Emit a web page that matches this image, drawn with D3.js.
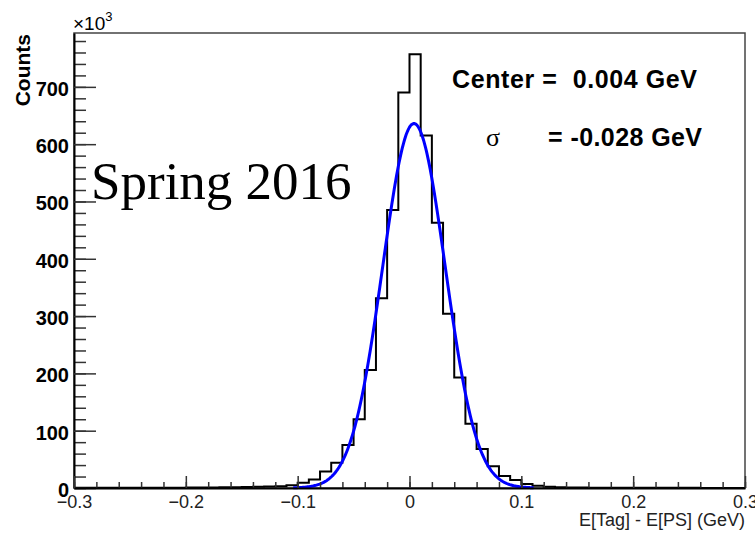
<!DOCTYPE html>
<html>
<head>
<meta charset="utf-8">
<script src="https://cdn.jsdelivr.net/npm/d3@7"></script>
<style>
  html, body { margin: 0; padding: 0; background: #fff; }
  svg { display: block; }
</style>
</head>
<body>
<svg id="chart" width="755" height="533"></svg>
<script>
// Histogram of E[Tag] - E[PS], 60 bins of 0.01 GeV from -0.3 to 0.3 (counts in thousands)
const binLow = -0.30;
const binWidth = 0.01;
const counts = [
  0.3, 0.3, 0.3, 0.4, 0.4, 0.4, 0.5, 0.5, 0.5, 0.6,   // -0.30 .. -0.21
  0.7, 0.8, 0.9, 1.1, 1.3, 1.6, 2.0, 2.6, 3.0, 5.0,   // -0.20 .. -0.11
  9, 15, 29, 44, 75, 120, 206, 331, 485, 690,         // -0.10 .. -0.01
  757, 615, 463, 304, 193, 112, 68, 38, 21, 14,       //  0.00 ..  0.09
  7, 4, 2, 1.2, 0.9, 0.7, 0.6, 0.5, 0.5, 0.4,         //  0.10 ..  0.19
  0.4, 0.4, 0.3, 0.3, 0.3, 0.3, 0.2, 0.2, 0.2, 0.2    //  0.20 ..  0.29
];

// Gaussian fit parameters
const fitAmplitude = 636;
const fitCenter = 0.004;
const fitSigma = 0.028;
const fitRange = [-0.104, 0.111];

const xTicks = [-0.3, -0.2, -0.1, 0, 0.1, 0.2, 0.3];
const yTicks = [0, 100, 200, 300, 400, 500, 600, 700];

const svg = d3.select("#chart");
const frameLeft = 74, frameRight = 745, frameTop = 33, frameBottom = 488;

const x = d3.scaleLinear().domain([-0.3, 0.3]).range([frameLeft, frameRight]);
const y = d3.scaleLinear().domain([0, 794]).range([frameBottom, frameTop]);

// frame
svg.append("rect")
  .attr("x", frameLeft).attr("y", frameTop)
  .attr("width", frameRight - frameLeft).attr("height", frameBottom - frameTop)
  .attr("fill", "none").attr("stroke", "#444").attr("stroke-width", 1.5);

// histogram outline
const stepPts = counts.map((c, i) => [binLow + i * binWidth, c]);
stepPts.push([binLow + counts.length * binWidth, counts[counts.length - 1]]);
const stepLine = d3.line()
  .x(d => x(d[0])).y(d => y(d[1]))
  .curve(d3.curveStepAfter);
svg.append("path")
  .attr("d", stepLine(stepPts))
  .attr("fill", "none").attr("stroke", "#000").attr("stroke-width", 2);

// gaussian fit curve
const fitPts = d3.range(0, 301).map(k => {
  const xv = fitRange[0] + (fitRange[1] - fitRange[0]) * k / 300;
  const z = (xv - fitCenter) / fitSigma;
  return [xv, fitAmplitude * Math.exp(-0.5 * z * z)];
});
svg.append("path")
  .attr("d", d3.line().x(d => x(d[0])).y(d => y(d[1]))(fitPts))
  .attr("fill", "none").attr("stroke", "#0000ff").attr("stroke-width", 3)
  .attr("stroke-linejoin", "round");

// y axis: major and minor ticks drawn inward
const yMinor = d3.range(0, 790, 20);
svg.append("g")
  .attr("transform", `translate(${frameLeft},0)`)
  .call(d3.axisLeft(y).tickValues(yMinor).tickSize(-12).tickFormat(""))
  .call(g => g.select(".domain").remove())
  .call(g => g.selectAll("line").attr("stroke", "#333").attr("stroke-width", 1.5));
const yAxis = svg.append("g")
  .attr("transform", `translate(${frameLeft},0)`)
  .call(d3.axisLeft(y).tickValues(yTicks).tickSizeInner(-22).tickSizeOuter(0).tickPadding(5).tickFormat(d3.format("d")));
yAxis.select(".domain").attr("stroke", "#000").attr("stroke-width", 2);
yAxis.selectAll("line").attr("stroke", "#333").attr("stroke-width", 1.5);
yAxis.selectAll("text")
  .attr("font-family", "'Liberation Sans', Arial, sans-serif")
  .attr("font-weight", "bold").attr("font-size", 20).attr("fill", "#000")
  .attr("dy", "0.42em");

// x axis: major and minor ticks drawn inward
const xMinor = d3.range(-15, 16).map(k => k * 0.02);
svg.append("g")
  .attr("transform", `translate(0,${frameBottom})`)
  .call(d3.axisBottom(x).tickValues(xMinor).tickSize(-6).tickFormat(""))
  .call(g => g.select(".domain").remove())
  .call(g => g.selectAll("line").attr("stroke", "#333").attr("stroke-width", 1.5));
const xAxis = svg.append("g")
  .attr("transform", `translate(0,${frameBottom})`)
  .call(d3.axisBottom(x).tickValues(xTicks).tickSizeInner(-12).tickSizeOuter(0).tickPadding(7)
    .tickFormat(d => d === 0 ? "0" : d3.format(".1f")(d).replace("-", "\u2212")));
xAxis.select(".domain").attr("stroke", "#000").attr("stroke-width", 2);
xAxis.selectAll("line").attr("stroke", "#333").attr("stroke-width", 1.5);
xAxis.selectAll("text")
  .attr("font-family", "'Liberation Sans', Arial, sans-serif")
  .attr("font-size", 18).attr("fill", "#222");

// axis titles
svg.append("text")
  .attr("transform", `translate(30,${frameTop + 1}) rotate(-90)`)
  .attr("text-anchor", "end")
  .attr("font-family", "'Liberation Sans', Arial, sans-serif")
  .attr("font-weight", "bold").attr("font-size", 21)
  .text("Counts");

svg.append("text")
  .attr("x", frameRight).attr("y", 526)
  .attr("text-anchor", "end")
  .attr("font-family", "'Liberation Sans', Arial, sans-serif")
  .attr("font-size", 18).attr("fill", "#222")
  .text("E[Tag] - E[PS] (GeV)");

// exponent marker
const expo = svg.append("text")
  .attr("x", frameLeft - 1).attr("y", 30)
  .attr("font-family", "'Liberation Sans', Arial, sans-serif")
  .attr("font-size", 19).attr("fill", "#000");
expo.append("tspan").text("\u00d710");
expo.append("tspan").attr("dy", -9).attr("font-size", 13).text("3");

// run label
svg.append("text")
  .attr("x", 91).attr("y", 199)
  .attr("font-family", "'Liberation Serif', 'Times New Roman', serif")
  .attr("font-size", 53).attr("fill", "#000")
  .text("Spring 2016");

// fit results
svg.append("text")
  .attr("x", 452).attr("y", 88)
  .attr("font-family", "'Liberation Sans', Arial, sans-serif")
  .attr("font-weight", "bold").attr("font-size", 25)
  .attr("textLength", 245).attr("lengthAdjust", "spacing")
  .attr("xml:space", "preserve")
  .text("Center =  0.004 GeV");

svg.append("text")
  .attr("x", 486).attr("y", 146)
  .attr("font-family", "'Liberation Serif', 'Times New Roman', serif")
  .attr("font-size", 26)
  .text("\u03c3");

svg.append("text")
  .attr("x", 548).attr("y", 146)
  .attr("font-family", "'Liberation Sans', Arial, sans-serif")
  .attr("font-weight", "bold").attr("font-size", 25)
  .attr("textLength", 154).attr("lengthAdjust", "spacing")
  .text("= -0.028 GeV");
</script>
</body>
</html>
